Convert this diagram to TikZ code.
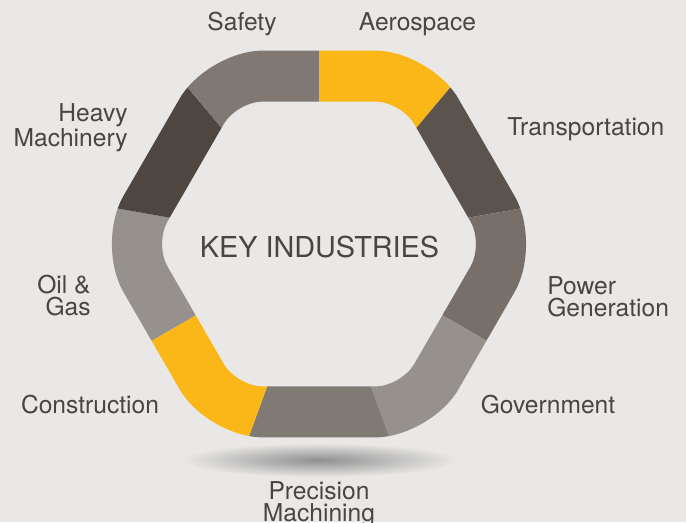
\documentclass[tikz,border=0pt]{standalone}
\usepackage{fontspec}
\setmainfont{TeX Gyre Heros}
\usepackage{tikz}

\definecolor{bggray}{HTML}{E9E8E7}
\definecolor{txtgray}{HTML}{4A4541}
\definecolor{gold}{HTML}{FBB718}
\definecolor{transp}{HTML}{5B534D}
\definecolor{power}{HTML}{77706A}
\definecolor{govt}{HTML}{96918C}
\definecolor{precis}{HTML}{807A75}
\definecolor{oilgas}{HTML}{96918C}
\definecolor{heavy}{HTML}{4D4641}
\definecolor{safety}{HTML}{807973}

\tikzset{
  lbl/.style={text=txtgray,inner sep=0pt,font=\fontsize{14}{12.5}\selectfont},
}

\begin{document}
\begin{tikzpicture}[x=0.02cm,y=0.02cm]
      \fill[bggray] (-319,-278) rectangle (367,244);
      \useasboundingbox (-319,-278) rectangle (367,244);
      % shadow under the ring
      \shade[inner color=black!38!bggray,outer color=bggray] (0,-216) ellipse [x radius=138,y radius=17];
      % ring, nine sectors of 40 degrees
      \foreach \a/\c in {90/gold,50/transp,10/power,-30/govt,-70/precis,-110/gold,-150/oilgas,-190/heavy,-230/safety}{
        \begin{scope}
          \clip (0,0) -- (\a:400) -- (\a-20:400) -- (\a-40:400) -- cycle;
          \fill[\c,even odd rule]
            [rounded corners=1.11cm] (0,193.4) -- (60:223.3) -- (0:223.3) -- (-60:223.3)
              -- (-120:223.3) -- (180:223.3) -- (120:223.3) -- (0,193.4)
            [rounded corners=0.52cm] (0,142.4) -- (60:164.5) -- (0:164.5) -- (-60:164.5)
              -- (-120:164.5) -- (180:164.5) -- (120:164.5) -- (0,142.4);
        \end{scope}
      }
      \node[text=txtgray,inner sep=0pt,font=\fontsize{16.4}{18}\selectfont,anchor=base]
        (title) at (0.5,-13) {KEY INDUSTRIES};
      \node[lbl,anchor=base] (safety) at (-77,214) {Safety};
      \node[lbl,anchor=base] (aero) at (98.5,214) {Aerospace};
      \node[lbl,anchor=base west] (trans) at (188,109) {Transportation};
      \node[lbl,anchor=north west,align=left] (powgen) at (228,-32) {Power\\Generation};
      \node[lbl,anchor=base] (gov) at (229,-169) {Government};
      \node[lbl,anchor=north,align=center] (precmach) at (0,-237) {Precision\\Machining};
      \node[lbl,anchor=base] (constr) at (-229,-169) {Construction};
      \node[lbl,anchor=north east,align=right] (oil) at (-228,-31) {Oil \&\\Gas};
      \node[lbl,anchor=north east,align=right] (heavymach) at (-191,141) {Heavy\\Machinery};
\end{tikzpicture}
\end{document}
